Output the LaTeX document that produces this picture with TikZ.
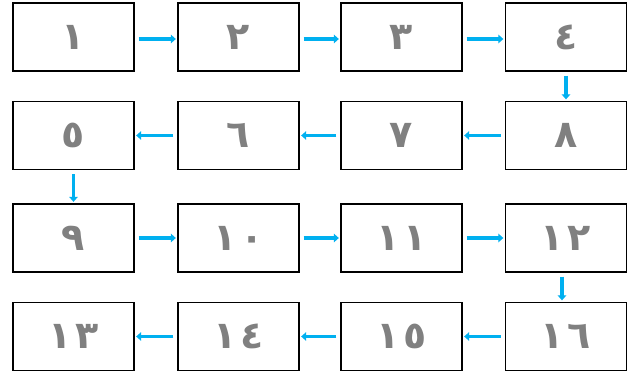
\documentclass[tikz,border=0pt]{standalone}
\usepackage{fontspec}
\newfontfamily\arabicfont{DejaVu Sans}
\usetikzlibrary{arrows.meta}
\definecolor{arrowblue}{RGB}{0,176,240}
\definecolor{digitgray}{RGB}{128,128,128}
\newcommand{\dg}{\hspace{4pt}}
\tikzset{
  stepbox/.style={draw=black, line width=1.3pt, fill=white, minimum width=121pt, minimum height=68pt, inner sep=0pt, font=\arabicfont\bfseries\fontsize{38}{38}\selectfont, text=digitgray},
  flow/.style={draw=arrowblue, line width=3.2pt, -{Triangle[length=5pt,width=8.5pt]}, shorten <=4pt, shorten >=1.5pt}
}
\begin{document}
\begin{tikzpicture}[x=1pt,y=-1pt]
\useasboundingbox (0,0) rectangle (629,375);
% row 1
\node[stepbox] (b1) at (73.5,37) {١};
\node[stepbox] (b2) at (238.5,37) {٢};
\node[stepbox] (b3) at (401.5,37) {٣};
\node[stepbox] (b4) at (566,37) {٤};
% row 2
\node[stepbox] (b5) at (73.5,135.5) {٥};
\node[stepbox] (b6) at (238.5,135.5) {٦};
\node[stepbox] (b7) at (401.5,135.5) {٧};
\node[stepbox] (b8) at (566,135.5) {٨};
% row 3
\node[stepbox] (b9) at (73.5,238) {٩};
\node[stepbox] (b10) at (238.5,238) {١\dg٠};
\node[stepbox] (b11) at (401.5,238) {١\dg١};
\node[stepbox] (b12) at (566,238) {١\dg٢};
% row 4
\node[stepbox] (b13) at (73.5,336.5) {١\dg٣};
\node[stepbox] (b14) at (238.5,336.5) {١\dg٤};
\node[stepbox] (b15) at (401.5,336.5) {١\dg٥};
\node[stepbox] (b16) at (566,336.5) {١\dg٦};
% connectors
\draw[flow] ([yshift=-2pt]b1.east) -- ([yshift=-2pt]b2.west);
\draw[flow] ([yshift=-2pt]b2.east) -- ([yshift=-2pt]b3.west);
\draw[flow] ([yshift=-2pt]b3.east) -- ([yshift=-2pt]b4.west);
\draw[flow] (b4.south) -- (b8.north);
\draw[flow] (b8.west) -- (b7.east);
\draw[flow] (b7.west) -- (b6.east);
\draw[flow] (b6.west) -- (b5.east);
\draw[flow] (b5.south) -- (b9.north);
\draw[flow] (b9.east) -- (b10.west);
\draw[flow] (b10.east) -- (b11.west);
\draw[flow] (b11.east) -- (b12.west);
\draw[flow] ([xshift=-4pt]b12.south) -- ([xshift=-4pt]b16.north);
\draw[flow] (b16.west) -- (b15.east);
\draw[flow] (b15.west) -- (b14.east);
\draw[flow] (b14.west) -- (b13.east);
\end{tikzpicture}
\end{document}
